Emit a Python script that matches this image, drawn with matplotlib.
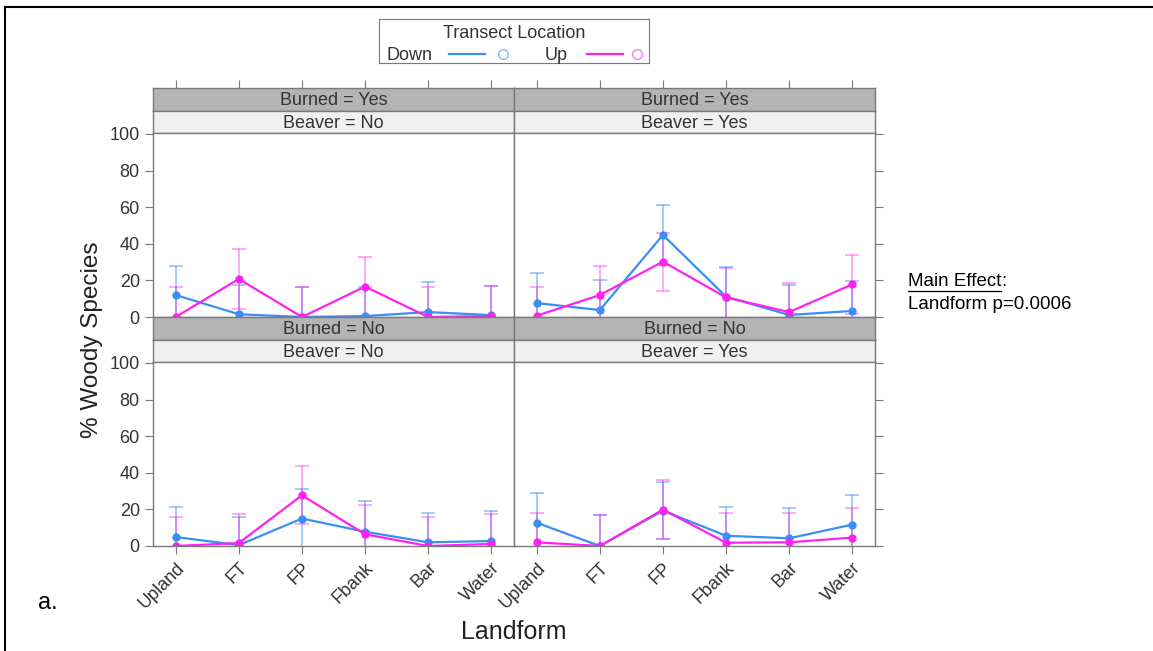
import matplotlib
matplotlib.use("Agg")
import matplotlib.pyplot as plt
from matplotlib.lines import Line2D
import numpy as np

W, H = 1153, 651

landforms = ["Upland", "FT", "FP", "Fbank", "Bar", "Water"]

# panel order: top-left, top-right, bottom-left, bottom-right
burned = ["Yes", "Yes", "No", "No"]
beaver = ["No", "Yes", "No", "Yes"]

down_mean = [
    [12, 1.5, 0, 0.5, 2.7, 1],
    [7.6, 3.8, 44.8, 11.1, 1.1, 3.3],
    [4.9, 0.5, 15, 7.8, 2, 2.7],
    [12.7, 0, 19.3, 5.6, 4.2, 11.7],
]
down_upper = [
    [28, 17.5, 16.5, 16.5, 19, 17],
    [23.9, 20.2, 61, 27.5, 17.3, 19.7],
    [21.5, 16, 31, 24.4, 18.2, 19],
    [28.8, 16.8, 35, 21.5, 20.6, 27.9],
]
up_mean = [
    [0, 20.8, 0, 16.6, 0, 0.5],
    [0.7, 12, 30.2, 10.7, 2.7, 17.8],
    [0, 1.6, 27.7, 6.4, 0, 1.1],
    [2, 0, 19.9, 1.8, 2, 4.6],
]
up_upper = [
    [16.5, 37, 16.5, 33, 16.5, 17],
    [16.6, 28, 46, 26.8, 18.8, 34],
    [16, 17.7, 43.5, 22.6, 16, 17.7],
    [18.2, 16.8, 36.2, 17.9, 17.9, 20.6],
]

BLUE = "#3a8ef5"
PINK = "#ff22ee"
EDGE = "#7a7a7a"
TXT = "#333333"


def ax_px(fig, x0, y0, w, h):
    return fig.add_axes([x0 / W, 1 - (y0 + h) / H, w / W, h / H])


def add_strip(fig, x0, y0, w, h, text, color):
    ax = ax_px(fig, x0, y0, w, h)
    ax.set_facecolor(color)
    ax.set_xticks([])
    ax.set_yticks([])
    for s in ax.spines.values():
        s.set_color(EDGE)
        s.set_linewidth(1.0)
    ax.text(0.5, 0.45, text, ha="center", va="center", fontsize=13,
            color=TXT, transform=ax.transAxes)
    return ax


plt.rcParams["font.family"] = ["Liberation Sans", "DejaVu Sans"]
fig = plt.figure(figsize=(W / 100, H / 100), dpi=100)

# outer frame of the figure
fig.add_artist(Line2D([5 / W, 5 / W], [0, 1 - 7 / H], transform=fig.transFigure,
                      color="black", lw=1.5))
fig.add_artist(Line2D([5 / W, 1], [1 - 7 / H, 1 - 7 / H], transform=fig.transFigure,
                      color="black", lw=1.5))

xs = np.arange(1, len(landforms) + 1)
col_x = [153, 514]
pw = 361
row_y = [88, 317]
sh = 23
ph = 184

for i in range(4):
    r, c = divmod(i, 2)
    x0 = col_x[c]
    y0 = row_y[r]
    add_strip(fig, x0, y0, pw, sh, f"Burned = {burned[i]}", "#b4b4b4")
    add_strip(fig, x0, y0 + sh, pw, sh - 1, f"Beaver = {beaver[i]}", "#f0f0f0")
    ax = ax_px(fig, x0, y0 + 2 * sh - 1, pw, ph)

    dm = np.array(down_mean[i])
    du = np.array(down_upper[i]) - dm
    um = np.array(up_mean[i])
    uu = np.array(up_upper[i]) - um

    ax.errorbar(xs, dm, yerr=du, fmt="none", ecolor=BLUE, alpha=0.55,
                elinewidth=1.2, capsize=5, capthick=1.2)
    ax.errorbar(xs, um, yerr=uu, fmt="none", ecolor=PINK, alpha=0.45,
                elinewidth=1.2, capsize=5, capthick=1.2)
    ax.plot(xs, dm, color=BLUE, lw=1.6, marker="o", ms=5)
    ax.plot(xs, um, color=PINK, lw=1.6, marker="o", ms=5)

    ax.set_xlim(0.64, 6.36)
    ax.set_ylim(0, 100.5)
    for s in ax.spines.values():
        s.set_color(EDGE)
        s.set_linewidth(1.0)
    ax.tick_params(direction="out", length=6, color=EDGE, labelsize=13,
                   labelcolor=TXT)
    ax.set_yticks([0, 20, 40, 60, 80, 100])
    if c == 0:
        ax.tick_params(axis="y", left=True, labelleft=True, right=False)
    else:
        ax.tick_params(axis="y", left=False, labelleft=False, right=True)
    ax.set_xticks(xs)
    if r == 1:
        ax.set_xticklabels(landforms, rotation=45, ha="right",
                           rotation_mode="anchor")
    else:
        ax.tick_params(axis="x", bottom=False, labelbottom=False)
        # ticks above the strips
        top = ax_px(fig, x0, y0, pw, 1)
        top.set_xlim(0.64, 6.36)
        top.set_xticks(xs)
        top.set_yticks([])
        for s in top.spines.values():
            s.set_visible(False)
        top.tick_params(axis="x", top=True, bottom=False, labeltop=False,
                        labelbottom=False, direction="out", length=6,
                        color=EDGE)
        top.patch.set_alpha(0)

fig.text(92 / W, 1 - 340 / H, "% Woody Species", rotation=90, ha="center",
         va="center", fontsize=17.5, color="#222222")
fig.text(514 / W, 1 - 632 / H, "Landform", ha="center", va="center",
         fontsize=18, color="#222222")
fig.text(48 / W, 1 - 603 / H, "a.", ha="center", va="center", fontsize=17,
         color="black")

# main effect note, underline measured from the rendered text
me = fig.text(908 / W, 1 - 281 / H, "Main Effect", ha="left", va="center",
              fontsize=13.5, color="black")
fig.text(908 / W, 1 - 305 / H, "Landform p=0.0006", ha="left", va="center",
         fontsize=13.5, color="black")
fig.canvas.draw()
bb = me.get_window_extent()
x_end = bb.x1 / W
fig.text(x_end, 1 - 281 / H, ":", ha="left", va="center", fontsize=13.5,
         color="black")
fig.add_artist(Line2D([908 / W, x_end], [1 - 291 / H, 1 - 291 / H],
                      transform=fig.transFigure, color="black", lw=0.9))

# legend box
lg = ax_px(fig, 379, 19, 270, 44)
lg.set_xlim(0, 270)
lg.set_ylim(44, 0)
lg.set_xticks([])
lg.set_yticks([])
for s in lg.spines.values():
    s.set_color(EDGE)
lg.text(135, 15, "Transect Location", ha="center", va="center", fontsize=13,
        color=TXT)
lg.text(7, 37, "Down", ha="left", va="center", fontsize=13, color=TXT)
lg.plot([70, 106], [35, 35], color=BLUE, lw=1.6)
lg.plot([124], [35], marker="o", mfc="none", mec=BLUE, ms=7, alpha=0.6)
lg.text(166, 37, "Up", ha="left", va="center", fontsize=13, color=TXT)
lg.plot([208, 244], [35, 35], color=PINK, lw=1.6)
lg.plot([258], [35], marker="o", mfc="none", mec=PINK, ms=7, alpha=0.6)

fig.savefig("out.png", dpi=100)
